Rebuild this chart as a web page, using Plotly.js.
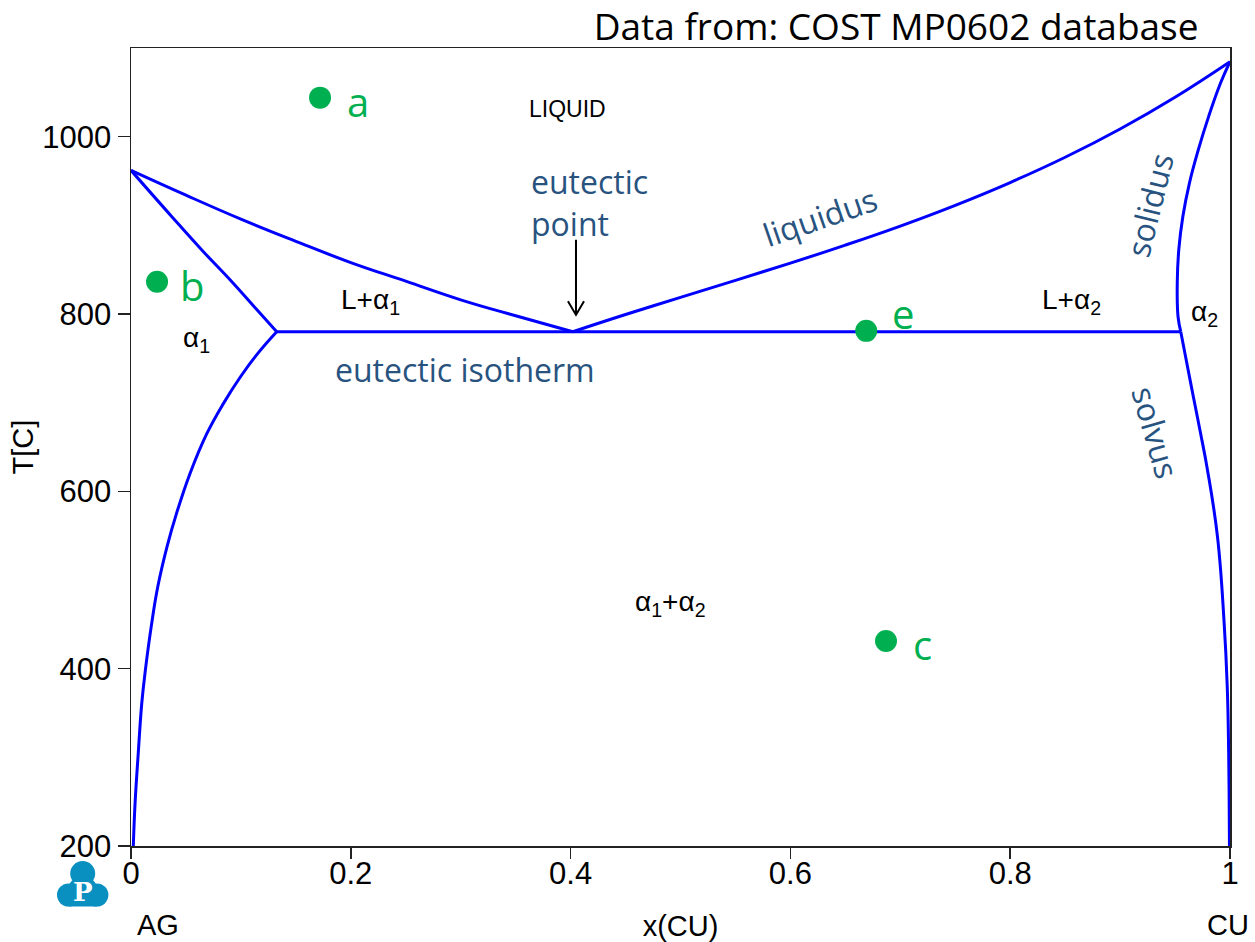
<!DOCTYPE html>
<html>
<head>
<meta charset="utf-8">
<script src="https://cdn.plot.ly/plotly-3.0.1.min.js"></script>
<style>html,body{margin:0;padding:0;background:#fff;}#chart{width:1255px;height:942px;}</style>
</head>
<body>
<div id="chart"></div>
<script>
// ---- phase boundary data (x = mole fraction Cu, T in C) ----
const liqLeftX  = [0, 0.05, 0.1, 0.15, 0.2, 0.25, 0.3, 0.35, 0.402];
const liqLeftT  = [962, 934, 907, 882, 858, 837, 816, 798, 780];
const solLeftX  = [0, 0.037, 0.0642, 0.0928, 0.1144, 0.1326];
const solLeftT  = [962, 910, 872.5, 835, 805, 780];
const solvLeftX = [0.1326, 0.1156, 0.0998, 0.0843, 0.0692, 0.0538, 0.0415, 0.0328, 0.0244, 0.0184, 0.0131, 0.0098, 0.0066, 0.0037, 0.0021];
const solvLeftT = [780, 755.9, 729.5, 699.5, 665.6, 620.5, 575.4, 537.7, 492.6, 447.4, 398.6, 361, 304.6, 248.2, 200];
const eutX      = [0.1326, 0.9552];
const eutT      = [780, 780];
const liqRightX = [0.402, 0.45, 0.5, 0.55, 0.6, 0.65, 0.7, 0.75, 0.8, 0.85, 0.9, 0.95, 1.0];
const liqRightT = [780, 799.4, 818.8, 838, 857.4, 877.7, 899.2, 922.6, 948.3, 976.8, 1008.7, 1044.5, 1084.6];
const solRightX = [1.0, 0.9914, 0.9806, 0.9712, 0.9631, 0.9571, 0.9534, 0.952, 0.9527, 0.9552];
const solRightT = [1084.6, 1060.5, 1022.9, 985.3, 947.7, 910, 872.5, 834.9, 797.2, 780];
const solvRightX = [0.9552, 0.9613, 0.9672, 0.9732, 0.9795, 0.9886, 0.9945, 0.9975, 0.9988, 0.9993, 0.9995];
const solvRightT = [780, 740.8, 703.2, 665.6, 624.2, 549, 455, 379.7, 304.6, 240.6, 200];

// ---- marked points ----
const ptLabels = ['a', 'b', 'c', 'e'];
const ptX = [0.172, 0.0237, 0.687, 0.669];
const ptT = [1044, 836.4, 431.3, 781];

// ---- axis ticks ----
const xTicks = [0, 0.2, 0.4, 0.6, 0.8, 1];
const yTicks = [200, 400, 600, 800, 1000];

// ---- region / curve labels ----
const regionText = ['LIQUID', 'L+α<sub>1</sub>', 'α<sub>1</sub>', 'α<sub>1</sub>+α<sub>2</sub>', 'L+α<sub>2</sub>', 'α<sub>2</sub>'];
const regionX = [0.397, 0.2175, 0.06, 0.4905, 0.856, 0.977];
const regionT = [1031.5, 813.8, 771, 474, 813.8, 801];

// label offsets (pixels) for the point letters
const ptLabelDx = [38, 35, 36, 37];
const ptLabelDy = [-4, -4, -4, 17];

const blueLine = {color: '#0000ff', width: 3, shape: 'spline', smoothing: 1.2};
function curve(x, y) {
  return {x: x, y: y, type: 'scatter', mode: 'lines', line: blueLine, hoverinfo: 'skip', showlegend: false};
}
const traces = [
  curve(liqLeftX, liqLeftT),
  curve(solLeftX, solLeftT),
  curve(solvLeftX, solvLeftT),
  {x: eutX, y: eutT, type: 'scatter', mode: 'lines', line: {color: '#0000ff', width: 3}, showlegend: false},
  curve(liqRightX, liqRightT),
  curve(solRightX, solRightT),
  curve(solvRightX, solvRightT),
  {x: ptX, y: ptT, type: 'scatter', mode: 'markers', marker: {color: '#00b050', size: 22}, showlegend: false}
];

const annBlue = '#28537f';
const blueFont = {family: 'Open Sans, sans-serif', size: 32, color: annBlue};
const annotations = [];
regionText.forEach((t, i) => annotations.push({
  x: regionX[i], y: regionT[i], xref: 'x', yref: 'y', xanchor: 'center', yanchor: 'middle', text: t, showarrow: false,
  font: {family: 'Liberation Sans, Arial, sans-serif', size: t === 'LIQUID' ? 23 : 28, color: '#000'}
}));
ptLabels.forEach((t, i) => annotations.push({
  x: ptX[i], y: ptT[i], xref: 'x', yref: 'y', xanchor: 'center', yanchor: 'middle', text: t, showarrow: false,
  xshift: ptLabelDx[i], yshift: ptLabelDy[i],
  font: {family: 'Open Sans, sans-serif', size: 40, color: '#00b050'}
}));
annotations.push(
  {x: 0.362, y: 925.5, xref: 'x', yref: 'y', xanchor: 'left', yanchor: 'middle', align: 'left', text: 'eutectic<br>point', showarrow: false,
   font: blueFont},
  {x: 0.1838, y: 737, xref: 'x', yref: 'y', xanchor: 'left', yanchor: 'middle', text: 'eutectic isotherm', showarrow: false,
   font: blueFont},
  {x: 0.627, y: 910, xref: 'x', yref: 'y', xanchor: 'center', yanchor: 'middle', text: 'liquidus', textangle: -19, showarrow: false,
   font: blueFont},
  {x: 0.927, y: 923, xref: 'x', yref: 'y', xanchor: 'center', yanchor: 'middle', text: 'solidus', textangle: -76, showarrow: false,
   font: blueFont},
  {x: 0.932, y: 667, xref: 'x', yref: 'y', xanchor: 'center', yanchor: 'middle', text: 'solvus', textangle: 74, showarrow: false,
   font: blueFont},
  {x: 0.0246, y: -0.099, xref: 'paper', yref: 'paper', xanchor: 'center', yanchor: 'middle', text: 'AG', showarrow: false,
   font: {family: 'Liberation Sans, Arial, sans-serif', size: 29, color: '#000'}},
  {x: 0.998, y: -0.099, xref: 'paper', yref: 'paper', xanchor: 'center', yanchor: 'middle', text: 'CU', showarrow: false,
   font: {family: 'Liberation Sans, Arial, sans-serif', size: 29, color: '#000'}},
  // logo letter
  {x: (83.3 - 131) / 1099, y: (846 - 892) / 798, xref: 'paper', yref: 'paper', xanchor: 'center', yanchor: 'middle',
   text: '<b>P</b>', showarrow: false,
   font: {family: 'DejaVu Serif, serif', size: 26, color: '#fff'}}
);

// logo circles (paper coords from pixel centres)
const logoColor = '#0a90c0';
function pcircle(cx, cy, r) {
  return {type: 'circle', xref: 'paper', yref: 'paper', layer: 'above',
    x0: (cx - r - 131) / 1099, x1: (cx + r - 131) / 1099,
    y0: (846 - cy - r) / 798, y1: (846 - cy + r) / 798,
    fillcolor: logoColor, line: {width: 0}};
}
const shapes = [
  pcircle(82.7, 873.5, 12.5),
  pcircle(68.5, 895, 11.5),
  pcircle(96.9, 895, 11.5),
  pcircle(82.7, 891, 15),
  {type: 'rect', xref: 'paper', yref: 'paper', layer: 'above',
   x0: (68.5 - 131) / 1099, x1: (96.9 - 131) / 1099, y0: (846 - 906.5) / 798, y1: (846 - 890) / 798,
   fillcolor: logoColor, line: {width: 0}},
  // eutectic point arrow
  {type: 'path', xref: 'x', yref: 'y', layer: 'above',
   path: 'M 0.4049,883.7 L 0.4049,799 M 0.3976,814.5 L 0.4049,799 L 0.4122,814.5',
   line: {color: '#000', width: 2}}
];

const axisFont = {family: 'Liberation Sans, Arial, sans-serif', size: 31, color: '#000'};
const layout = {
  width: 1255, height: 942,
  margin: {l: 131, r: 25, t: 48, b: 96, pad: 0},
  paper_bgcolor: '#fff', plot_bgcolor: '#fff',
  showlegend: false,
  title: {text: 'Data from: COST MP0602 database', x: 0.955, xanchor: 'right', xref: 'container',
          y: 0.971, yanchor: 'middle', yref: 'container',
          font: {family: 'Open Sans, sans-serif', size: 37, color: '#000'}},
  xaxis: {range: [0, 1], tickvals: xTicks, ticktext: xTicks.map(String), showgrid: false, zeroline: false,
          showline: true, mirror: true, linecolor: '#222', linewidth: 1.5,
          ticks: 'outside', ticklen: 11, tickwidth: 1.5, tickcolor: '#222', tickfont: axisFont,
          ticklabelstandoff: -12,
          title: {text: 'x(CU)', font: {family: 'Liberation Sans, Arial, sans-serif', size: 29, color: '#000'}, standoff: 28}},
  yaxis: {range: [200, 1100], tickvals: yTicks, showgrid: false, zeroline: false,
          showline: true, mirror: true, linecolor: '#222', linewidth: 1.5,
          ticks: 'outside', ticklen: 12, tickwidth: 1.5, tickcolor: '#222', tickfont: axisFont,
          title: {text: 'T[C]', font: {family: 'Liberation Sans, Arial, sans-serif', size: 29, color: '#000'}, standoff: 0}},
  annotations: annotations,
  shapes: shapes
};
Plotly.newPlot('chart', traces, layout, {staticPlot: true, displayModeBar: false});
</script>
</body>
</html>
